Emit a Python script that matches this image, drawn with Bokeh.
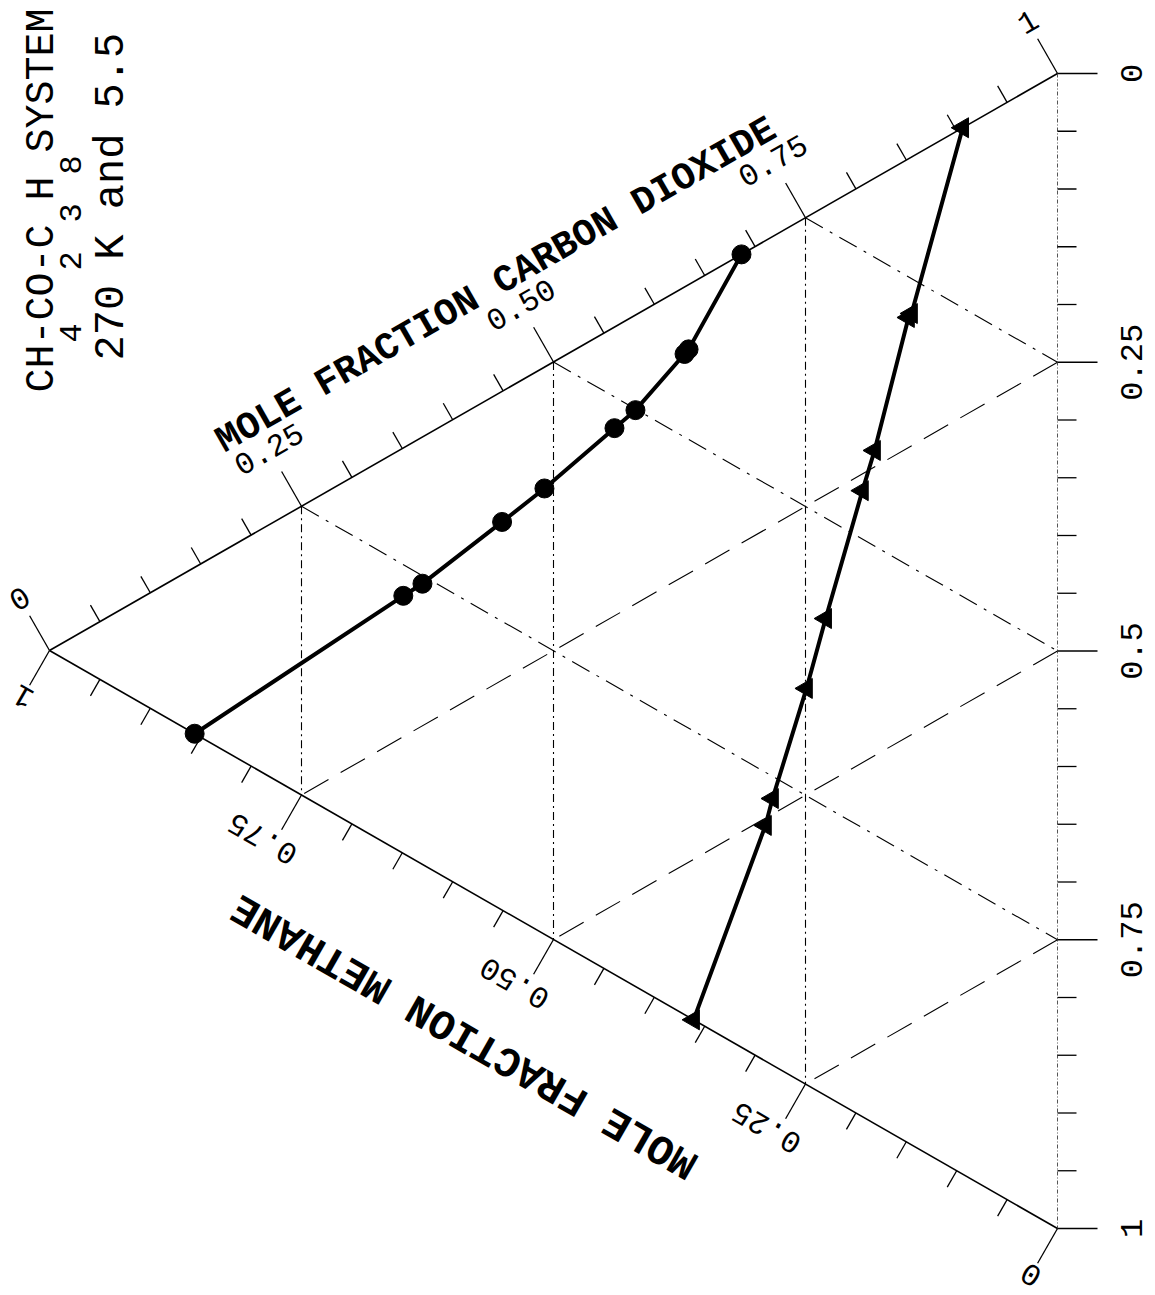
import math
from bokeh.plotting import figure
from bokeh.models import Range1d
from bokeh.embed import file_html
from bokeh.resources import INLINE
from bokeh.core.properties import value

# ---------------- data (mole fractions) ----------------
# vapour phase (circles): methane, carbon dioxide ; propane = 1 - both
vap_methane = [0.856, 0.649, 0.630, 0.551, 0.509, 0.4395, 0.4187, 0.370, 0.366, 0.3135]
vap_co2     = [0.000, 0.223, 0.243, 0.336, 0.386, 0.473, 0.499, 0.572, 0.578, 0.6865]
# liquid phase (triangles)
liq_methane = [0.094, 0.1448, 0.1478, 0.1815, 0.1935, 0.230, 0.249, 0.2827, 0.2897, 0.361]
liq_co2     = [0.906, 0.7197, 0.7148, 0.5828, 0.542, 0.413, 0.343, 0.2308, 0.204, 0.000]

tick_values = [i / 20 for i in range(21)]
major_values = [0.0, 0.25, 0.5, 0.75, 1.0]
co2_labels = ["0", "0.25", "0.50", "0.75", "1"]
methane_labels = ["0", "0.25", "0.50", "0.75", "1"]
propane_labels = ["0", "0.25", "0.5", "0.75", "1"]
grid_values = [0.25, 0.5, 0.75]

# title "CH4-CO2-C3H8 SYSTEM": main characters on a monospace grid,
# each subscript sits in the cell right after its atom
title_main = [("CH", 0), ("-CO", 2), ("-C", 5), ("H", 8), ("SYSTEM", 10)]
title_subs = [("4", 2), ("2", 5), ("3", 7), ("8", 9)]
title_line2 = "270 K and 5.5"
co2_title = "MOLE FRACTION CARBON DIOXIDE"
methane_title = "MOLE FRACTION METHANE"

# ---------------- layout ----------------
W, H = 1152, 1292
FONT = "Liberation Mono"
LX, LY = 49.0, -650.0      # pure methane
TX, TY = 1057.0, -73.0     # pure carbon dioxide
BX, BY = 1057.0, -1228.0   # pure propane


def xy(m, c):
    p = 1.0 - m - c
    return m * LX + c * TX + p * BX, m * LY + c * TY + p * BY


def xys(ms, cs):
    pts = [xy(m, c) for m, c in zip(ms, cs)]
    return [q[0] for q in pts], [q[1] for q in pts]


p = figure(width=W, height=H, x_range=Range1d(0, W), y_range=Range1d(-H, 0),
           output_backend="svg", toolbar_location=None, min_border=0)
p.axis.visible = False
p.grid.visible = False
p.outline_line_color = None
p.background_fill_color = "white"
p.border_fill_color = "white"

up_dir = (TX - LX, TY - LY)
ul = math.hypot(*up_dir)
up_dir = (up_dir[0] / ul, up_dir[1] / ul)
n_up = (-abs(up_dir[1]), abs(up_dir[0]))       # outward, up-left
lo_dir = (BX - LX, BY - LY)
ll = math.hypot(*lo_dir)
lo_dir = (lo_dir[0] / ll, lo_dir[1] / ll)
n_lo = (-abs(lo_dir[1]), -abs(lo_dir[0]))      # outward, down-left
n_r = (1.0, 0.0)

ang_up = math.atan2(TY - LY, TX - LX)
ang_lo = math.atan2(LY - BY, LX - BX)

# ---------------- grid lines ----------------
for v in grid_values:
    x0, y0 = xy(v, 1 - v); x1, y1 = xy(v, 0)          # methane constant
    p.line([x0, x1], [y0, y1], line_color="black", line_width=1.1, line_dash="8 4 2 4")
    x0, y0 = xy(1 - v, v); x1, y1 = xy(0, v)          # carbon dioxide constant
    p.line([x0, x1], [y0, y1], line_color="black", line_width=1.1, line_dash="20 8 3 8")
    x0, y0 = xy(0, 1 - v); x1, y1 = xy(1 - v, 0)      # propane constant
    p.line([x0, x1], [y0, y1], line_color="black", line_width=1.1, line_dash="28 14")

# ---------------- edges ----------------
p.line([LX, TX], [LY, TY], line_color="black", line_width=1.6)
p.line([LX, BX], [LY, BY], line_color="black", line_width=1.6)
p.line([TX, BX], [TY, BY], line_color="#555555", line_width=1.0, line_dash="4 2 1 2")


def ticks(pt_fn, normal):
    xs, ys = [], []
    for v in tick_values:
        major = any(abs(v - mv) < 1e-9 for mv in major_values)
        L = 40 if major else 19
        x0, y0 = pt_fn(v)
        xs.append([x0, x0 + normal[0] * L]); ys.append([y0, y0 + normal[1] * L])
    p.multi_line(xs, ys, line_color="black", line_width=1.3)


ticks(lambda v: xy(1 - v, v), n_up)      # carbon dioxide axis
ticks(lambda v: xy(v, 0.0), n_lo)        # methane axis
ticks(lambda v: xy(0.0, 1 - v), n_r)     # propane axis

# ---------------- tick labels ----------------
for v, t in zip(major_values, co2_labels):
    x0, y0 = xy(1 - v, v)
    d = 60 if v in (0.0, 1.0) else 66
    p.text([x0 + n_up[0] * d], [y0 + n_up[1] * d], text=[t], angle=ang_up,
           text_font=value(FONT), text_font_size="31px", text_align="center",
           text_baseline="middle", text_color="black")
for v, t in zip(major_values, methane_labels):
    x0, y0 = xy(v, 0.0)
    if v in (0.0, 1.0):
        d, s = 54, 0
    else:
        d, s = 58, -12
    p.text([x0 + n_lo[0] * d + lo_dir[0] * s], [y0 + n_lo[1] * d + lo_dir[1] * s],
           text=[t], angle=ang_lo,
           text_font=value(FONT), text_font_size="31px", text_align="center",
           text_baseline="middle", text_color="black")
for v, t in zip(major_values, propane_labels):
    x0, y0 = xy(0.0, 1 - v)
    p.text([x0 + 74], [y0], text=[t], angle=math.pi / 2,
           text_font=value(FONT), text_font_size="32px", text_align="center",
           text_baseline="middle", text_color="black")

# ---------------- axis titles ----------------
cx, cy = xy(1 - 0.49, 0.49)
p.text([cx + n_up[0] * 95], [cy + n_up[1] * 95], text=[co2_title], angle=ang_up,
       text_font=value(FONT), text_font_size="38px", text_font_style="bold",
       text_align="center", text_baseline="middle", text_color="black")
cx, cy = xy(0.525, 0.0)
p.text([cx + n_lo[0] * 127], [cy + n_lo[1] * 127], text=[methane_title], angle=ang_lo,
       text_font=value(FONT), text_font_size="42px", text_font_style="bold",
       text_align="center", text_baseline="middle", text_color="black")

# ---------------- chart title (rotated, reading upward) ----------------
CELL = 24.0
START = 392.0
for s, k in title_main:
    p.text([42], [-(START - k * CELL)], text=[s], angle=math.pi / 2, text_font=value(FONT),
           text_font_size="40px", text_align="left", text_baseline="middle",
           text_color="black")
for s, k in title_subs:
    p.text([70], [-(START - k * CELL - 2)], text=[s], angle=math.pi / 2,
           text_font=value(FONT), text_font_size="32px", text_align="left",
           text_baseline="middle", text_color="black")
p.text([111], [-360], text=[title_line2], angle=math.pi / 2, text_font=value(FONT),
       text_font_size="42px", text_align="left", text_baseline="middle", text_color="black")

# ---------------- data ----------------
vx, vy = xys(vap_methane, vap_co2)
lx, ly = xys(liq_methane, liq_co2)
p.line(vx, vy, line_color="black", line_width=4)
p.line(lx, ly, line_color="black", line_width=4)
p.scatter(vx, vy, marker="circle", size=19, fill_color="black", line_color="black")
p.scatter(lx, ly, marker="triangle", size=20, angle=math.pi / 2,
          fill_color="black", line_color="black")

open("out.html", "w").write(file_html(p, INLINE))
